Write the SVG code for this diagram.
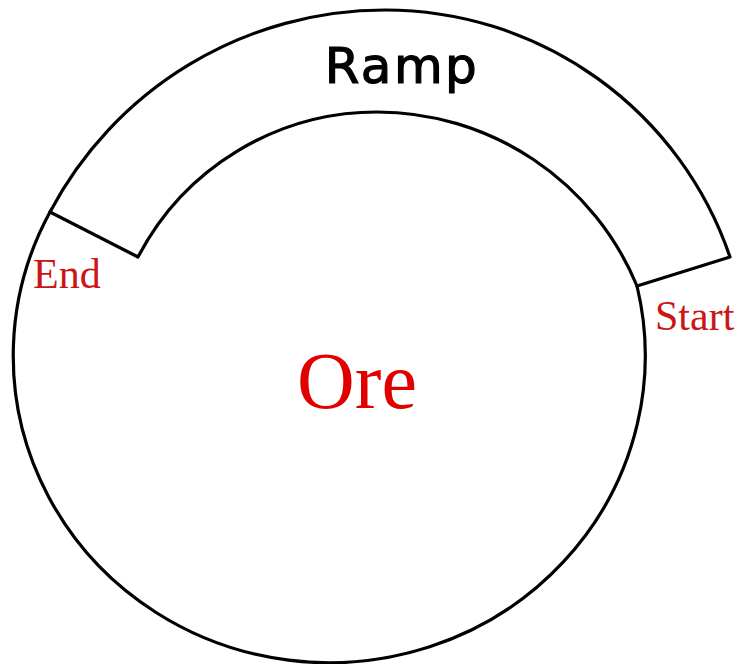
<svg xmlns="http://www.w3.org/2000/svg" width="744" height="664" viewBox="0 0 744 664">
  <style>
    .line { fill: none; stroke: #000; stroke-width: 3.2; stroke-linejoin: round; stroke-linecap: round; }
    .lbl { font-family: "Liberation Serif", "Times New Roman", serif; fill: #cc1518; }
    .ore { font-family: "Liberation Serif", "Times New Roman", serif; fill: #e00000; }
    .ramp { font-family: "DejaVu Sans", "Liberation Sans", sans-serif; fill: #000; stroke: #000; stroke-width: 1.2; }
  </style>
  <rect width="744" height="664" fill="#fff"/>
  <g id="pit">
    <path class="line" d="M637,286 A316,307 0 1 1 50,212"/>
  </g>
  <g id="ramp">
    <path class="line" d="M50,212 A378.8,378.8 0 0 1 385,10 A364.4,364.4 0 0 1 730,257 L637,286"/>
    <path class="line" d="M50,212 L138,257 A269.5,269.5 0 0 1 377,112 A281.3,281.3 0 0 1 637,286"/>
    <text class="ramp" x="402" y="83" font-size="50" text-anchor="middle" letter-spacing="2.5">Ramp</text>
  </g>
  <g id="labels">
    <text class="lbl" x="33" y="288" font-size="42">End</text>
    <text class="lbl" x="655" y="330" font-size="42">Start</text>
    <text class="ore" x="357" y="408" font-size="80" text-anchor="middle">Ore</text>
  </g>
</svg>
